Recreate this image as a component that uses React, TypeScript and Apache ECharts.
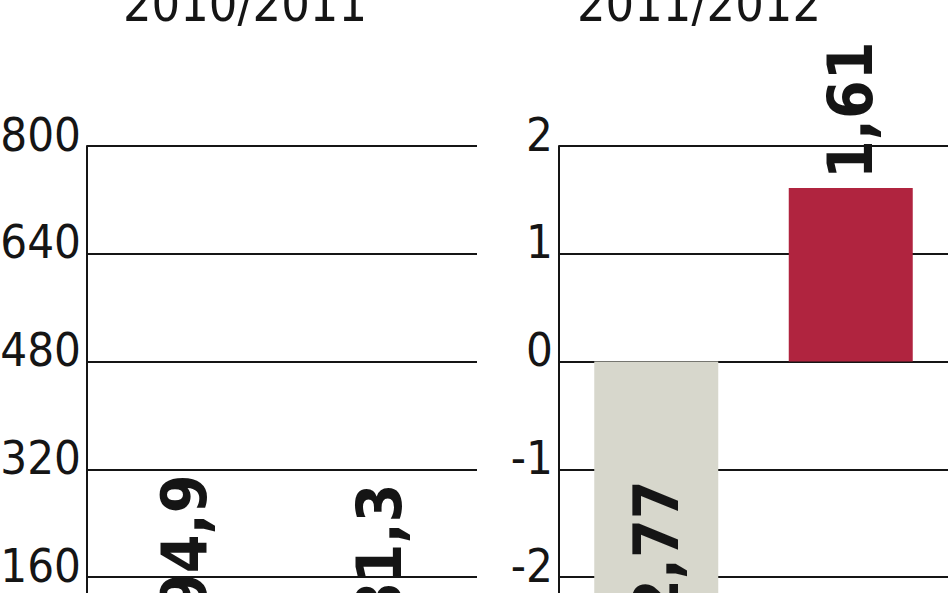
import { useEffect, useRef } from 'react'
import * as echarts from 'echarts'

// chart data
const seasons = ['2010/2011', '2011/2012']
const categories = ['I', 'II']
const leftValues = [94.9, 81.3]
const rightValues = [-2.77, 1.61]
const barColors = ['#d7d7cc', '#b0243f']

const leftAxis = { min: 0, max: 800, interval: 160 }
const rightAxis = { min: -3, max: 2, interval: 1 }

const FONT = "'DejaVu Sans Condensed', 'DejaVu Sans', sans-serif"
const INK = '#151515'

const fmt = (v: number) => String(v).replace('.', ',')

function makeYAxis(idx: number, range: { min: number; max: number; interval: number }) {
  return {
    type: 'value' as const,
    gridIndex: idx,
    min: range.min,
    max: range.max,
    interval: range.interval,
    axisLine: { show: true, lineStyle: { color: INK, width: 2 } },
    axisTick: { show: false },
    splitLine: { show: true, lineStyle: { color: INK, width: 2 } },
    axisLabel: {
      color: INK,
      fontFamily: FONT,
      fontSize: 47,
      margin: 6,
      verticalAlign: 'bottom',
      lineHeight: 24,
    },
  }
}

function makeXAxis(idx: number) {
  return {
    type: 'category' as const,
    gridIndex: idx,
    data: categories,
    axisLine: { show: false },
    axisTick: { show: false },
    axisLabel: { show: false },
  }
}

function makeBars(idx: number, values: number[]) {
  return {
    type: 'bar' as const,
    xAxisIndex: idx,
    yAxisIndex: idx,
    barWidth: 124,
    data: values.map((v, i) => ({
      value: v,
      itemStyle: { color: barColors[i] },
      label: {
        show: true,
        position: v < 0 ? 'insideBottom' : 'top',
        distance: v < 0 ? 19 : 9,
        rotate: 90,
        align: 'left',
        verticalAlign: 'middle',
        color: INK,
        fontFamily: FONT,
        fontWeight: 'bold',
        fontSize: 62,
        formatter: () => fmt(v),
      },
    })),
  }
}

export default function App() {
  const chartRef = useRef<HTMLDivElement>(null)

  useEffect(() => {
    if (!chartRef.current) return
    const chart = echarts.init(chartRef.current, undefined, { renderer: 'svg' })

    const titleStyle = { fill: INK, fontFamily: FONT, fontSize: 50, align: 'center', verticalAlign: 'middle' }

    const option: echarts.EChartsOption = {
      animation: false,
      backgroundColor: '#ffffff',
      graphic: [
        { type: 'text', x: 245, y: 4, style: { ...titleStyle, text: seasons[0] } },
        { type: 'text', x: 699, y: 4, style: { ...titleStyle, text: seasons[1] } },
      ] as any,
      grid: [
        { left: 87, top: 146, width: 390, height: 539, outerBoundsMode: 'none' },
        { left: 559, top: 146, width: 389, height: 539, outerBoundsMode: 'none' },
      ] as any,
      xAxis: [makeXAxis(0), makeXAxis(1)],
      yAxis: [makeYAxis(0, leftAxis), makeYAxis(1, rightAxis)],
      series: [makeBars(0, leftValues), makeBars(1, rightValues)] as echarts.SeriesOption[],
    }

    chart.setOption(option)
    return () => {
      chart.dispose()
    }
  }, [])

  return (
    <div
      ref={chartRef}
      style={{ position: 'fixed', left: 0, top: 0, width: '948px', height: '593px' }}
    />
  )
}
